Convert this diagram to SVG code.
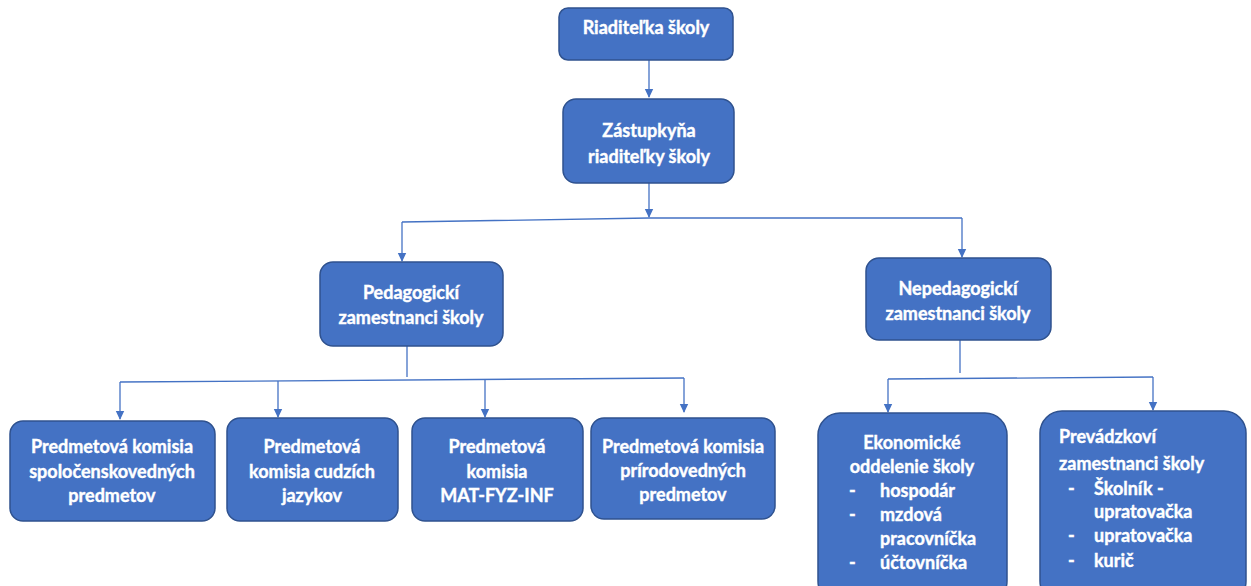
<svg xmlns="http://www.w3.org/2000/svg" width="1251" height="586" viewBox="0 0 1251 586">
<style>
.box{fill:#4472C4;stroke:#2F528F;stroke-width:1.5}
.t{font-family:Lato,"Open Sans","Liberation Sans",sans-serif;font-weight:bold;font-size:18px;fill:#FFFFFF;stroke:#FFFFFF;stroke-width:0.4}
.c{text-anchor:middle}
.ln{fill:none;stroke:#4472C4;stroke-width:1.3}
</style>
<defs>
<marker id="ah" markerWidth="10" markerHeight="10" refX="8" refY="5" orient="auto" markerUnits="userSpaceOnUse">
<path d="M0,0.8 L9,5 L0,9.2 Z" fill="#4472C4"/>
</marker>
</defs>
<rect width="1251" height="586" fill="#FFFFFF"/>
<g id="connectors">
<path class="ln" d="M649,60 L649,97" marker-end="url(#ah)"/>
<path class="ln" d="M649,183 L649,217" marker-end="url(#ah)"/>
<path class="ln" d="M402,222 L649,218 L962,218"/>
<path class="ln" d="M402,222 L402,261" marker-end="url(#ah)"/>
<path class="ln" d="M962,218 L962,257" marker-end="url(#ah)"/>
<path class="ln" d="M407,346 L407,377"/>
<path class="ln" d="M120,382 L684,378"/>
<path class="ln" d="M120,382 L120,419" marker-end="url(#ah)"/>
<path class="ln" d="M278,381 L278,417" marker-end="url(#ah)"/>
<path class="ln" d="M485,380 L485,417" marker-end="url(#ah)"/>
<path class="ln" d="M684,378 L684,412" marker-end="url(#ah)"/>
<path class="ln" d="M960,340 L960,373"/>
<path class="ln" d="M888,379 L1153,377"/>
<path class="ln" d="M888,379 L888,412" marker-end="url(#ah)"/>
<path class="ln" d="M1153,377 L1153,410" marker-end="url(#ah)"/>
</g>
<g id="n-riaditelka">
<rect class="box" x="559" y="8" width="174" height="52" rx="9"/>
<text class="t c" x="646" y="34">Riaditeľka školy</text>
</g>
<g id="n-zastupkyna">
<rect class="box" x="563" y="99" width="171" height="84" rx="13"/>
<text class="t c" x="649" y="137">Zástupkyňa</text>
<text class="t c" x="649" y="163">riaditeľky školy</text>
</g>
<g id="n-pedagogicki">
<rect class="box" x="320" y="262" width="183" height="84" rx="13"/>
<text class="t c" x="411" y="299">Pedagogickí</text>
<text class="t c" x="411" y="324">zamestnanci školy</text>
</g>
<g id="n-nepedagogicki">
<rect class="box" x="866" y="258" width="185" height="82" rx="13"/>
<text class="t c" x="958" y="295">Nepedagogickí</text>
<text class="t c" x="958" y="320">zamestnanci školy</text>
</g>
<g id="n-spol">
<rect class="box" x="10" y="421" width="205" height="100" rx="13"/>
<text class="t c" x="112" y="453">Predmetová komisia</text>
<text class="t c" x="112" y="478">spoločenskovedných</text>
<text class="t c" x="112" y="502">predmetov</text>
</g>
<g id="n-cudz">
<rect class="box" x="227" y="418" width="171" height="103" rx="13"/>
<text class="t c" x="312" y="453">Predmetová</text>
<text class="t c" x="312" y="478">komisia cudzích</text>
<text class="t c" x="312" y="502">jazykov</text>
</g>
<g id="n-mat">
<rect class="box" x="412" y="418" width="171" height="103" rx="13"/>
<text class="t c" x="497" y="453">Predmetová</text>
<text class="t c" x="497" y="478">komisia</text>
<text class="t c" x="497" y="502">MAT-FYZ-INF</text>
</g>
<g id="n-prir">
<rect class="box" x="591" y="418" width="184" height="101" rx="13"/>
<text class="t c" x="683" y="453">Predmetová komisia</text>
<text class="t c" x="683" y="477">prírodovedných</text>
<text class="t c" x="683" y="501">predmetov</text>
</g>
<g id="n-ekonom">
<rect class="box" x="818" y="413" width="189" height="190" rx="22"/>
<text class="t c" x="912" y="449">Ekonomické</text>
<text class="t c" x="912" y="473">oddelenie školy</text>
<text class="t" x="849" y="497">-</text><text class="t" x="880" y="497">hospodár</text>
<text class="t" x="849" y="521">-</text><text class="t" x="880" y="521">mzdová</text>
<text class="t" x="880" y="545">pracovníčka</text>
<text class="t" x="849" y="569">-</text><text class="t" x="880" y="569">účtovníčka</text>
</g>
<g id="n-prevadz">
<rect class="box" x="1040" y="411" width="206" height="192" rx="22"/>
<text class="t" x="1059" y="443">Prevádzkoví</text>
<text class="t" x="1059" y="470">zamestnanci školy</text>
<text class="t" x="1068" y="495">-</text><text class="t" x="1094" y="495">Školník -</text>
<text class="t" x="1094" y="518">upratovačka</text>
<text class="t" x="1068" y="542">-</text><text class="t" x="1094" y="542">upratovačka</text>
<text class="t" x="1068" y="567">-</text><text class="t" x="1094" y="567">kurič</text>
</g>
</svg>
